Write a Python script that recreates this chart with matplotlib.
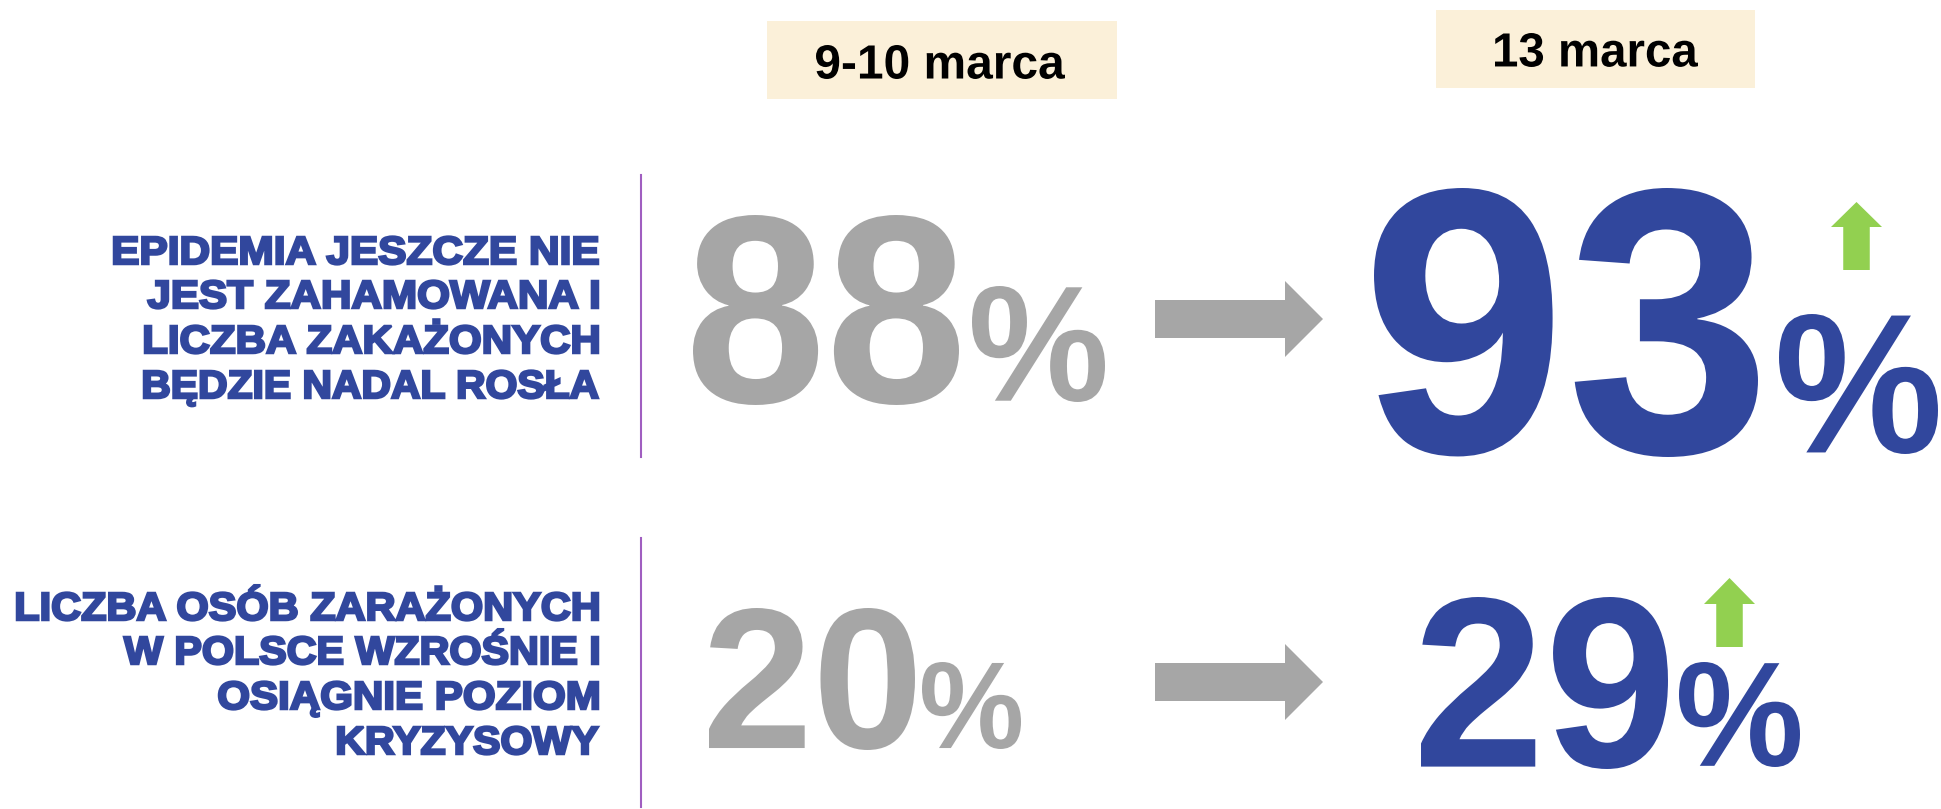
import matplotlib
matplotlib.use("Agg")
import matplotlib.pyplot as plt
from matplotlib.textpath import TextPath
from matplotlib.patches import PathPatch, Polygon, Rectangle
from matplotlib.font_manager import FontProperties
from matplotlib.transforms import Affine2D

# data
dates = ["9-10 marca", "13 marca"]
questions = [
    ["EPIDEMIA JESZCZE NIE", "JEST ZAHAMOWANA I", "LICZBA ZAKAŻONYCH", "BĘDZIE NADAL ROSŁA"],
    ["LICZBA OSÓB ZARAŻONYCH", "W POLSCE WZROŚNIE I", "OSIĄGNIE POZIOM", "KRYZYSOWY"],
]
before = [88, 20]
after = [93, 29]

BLUE = "#31479d"
GREY = "#a6a6a6"
GREEN = "#92d050"
CREAM = "#fbf0d9"
PURPLE = "#a05ec0"

FP = FontProperties(family="Liberation Sans", weight="bold")

W, H = 1941, 809
fig = plt.figure(figsize=(W / 100, H / 100), dpi=100)
ax = fig.add_axes([0, 0, 1, 1])
ax.set_xlim(0, W)
ax.set_ylim(H, 0)
ax.set_axis_off()


def fit_text(s, x0, x1, y_top, y_bot, color, lw=0):
    # squeeze a text path into a pixel box
    tp = TextPath((0, 0), s, size=100, prop=FP)
    bb = tp.get_extents()
    sx = (x1 - x0) / bb.width
    sy = (y_bot - y_top) / bb.height
    tr = Affine2D().translate(-bb.x0, -bb.y0).scale(sx, -sy).translate(x0, y_bot)
    ax.add_patch(PathPatch(tr.transform_path(tp), fc=color, ec=color if lw else "none", lw=lw))


cap = TextPath((0, 0), "H", size=100, prop=FP).get_extents().height


def label_lines(lines, lefts, x_right, baselines, cap_px):
    sy = cap_px / cap
    for s, xl, yb in zip(lines, lefts, baselines):
        tp = TextPath((0, 0), s, size=100, prop=FP)
        bb = tp.get_extents()
        sx = (x_right - xl) / bb.width
        tr = Affine2D().translate(-bb.x0, 0).scale(sx, -sy).translate(xl, yb)
        ax.add_patch(PathPatch(tr.transform_path(tp), fc=BLUE, ec=BLUE, lw=1.8))


# headers
ax.add_patch(Rectangle((767, 21), 350, 78, fc=CREAM, ec="none", zorder=0))
ax.add_patch(Rectangle((1436, 10), 319, 78, fc=CREAM, ec="none", zorder=0))
fit_text(dates[0], 816, 1065, 45, 79, "black")
fit_text(dates[1], 1495, 1698, 33, 67, "black")

# question labels + separators
label_lines(questions[0], [114, 148, 145, 144], 598, [264, 308, 353, 398], 27)
label_lines(questions[1], [17, 124, 219, 338], 598, [620, 664, 709, 754], 27)
ax.plot([641, 641], [175, 457], color=PURPLE, lw=1.5)
ax.plot([641, 641], [538, 807], color=PURPLE, lw=1.5)

# row 1 numbers
fit_text(str(before[0]), 693, 959, 215, 405, GREY)
fit_text("%", 972, 1105, 286, 402, GREY)
fit_text(str(after[0]), 1374, 1758, 188, 457, BLUE)
fit_text("%", 1779, 1938, 314, 454, BLUE)

# row 2 numbers
fit_text(str(before[1]), 709, 915, 608, 750, GREY)
fit_text("%", 922, 1021, 662, 749, GREY)
fit_text(str(after[1]), 1421, 1668, 597, 769, BLUE)
fit_text("%", 1679, 1800, 662, 767, BLUE)


def grey_arrow(yc):
    pts = [(1155, yc - 19), (1285, yc - 19), (1285, yc - 38), (1323, yc),
           (1285, yc + 38), (1285, yc + 19), (1155, yc + 19)]
    ax.add_patch(Polygon(pts, closed=True, fc=GREY, ec="none"))


def up_arrow(x0, x1, tip, base, bottom):
    xc = (x0 + x1) / 2
    sw = (x1 - x0) * 0.26
    pts = [(xc - sw, bottom), (xc - sw, base), (x0, base), (xc, tip),
           (x1, base), (xc + sw, base), (xc + sw, bottom)]
    ax.add_patch(Polygon(pts, closed=True, fc=GREEN, ec="none"))


grey_arrow(319)
grey_arrow(682)
up_arrow(1831, 1882, 202, 227, 270)
up_arrow(1704, 1755, 578, 604, 647)

fig.savefig("out.png", dpi=100, facecolor="white")
